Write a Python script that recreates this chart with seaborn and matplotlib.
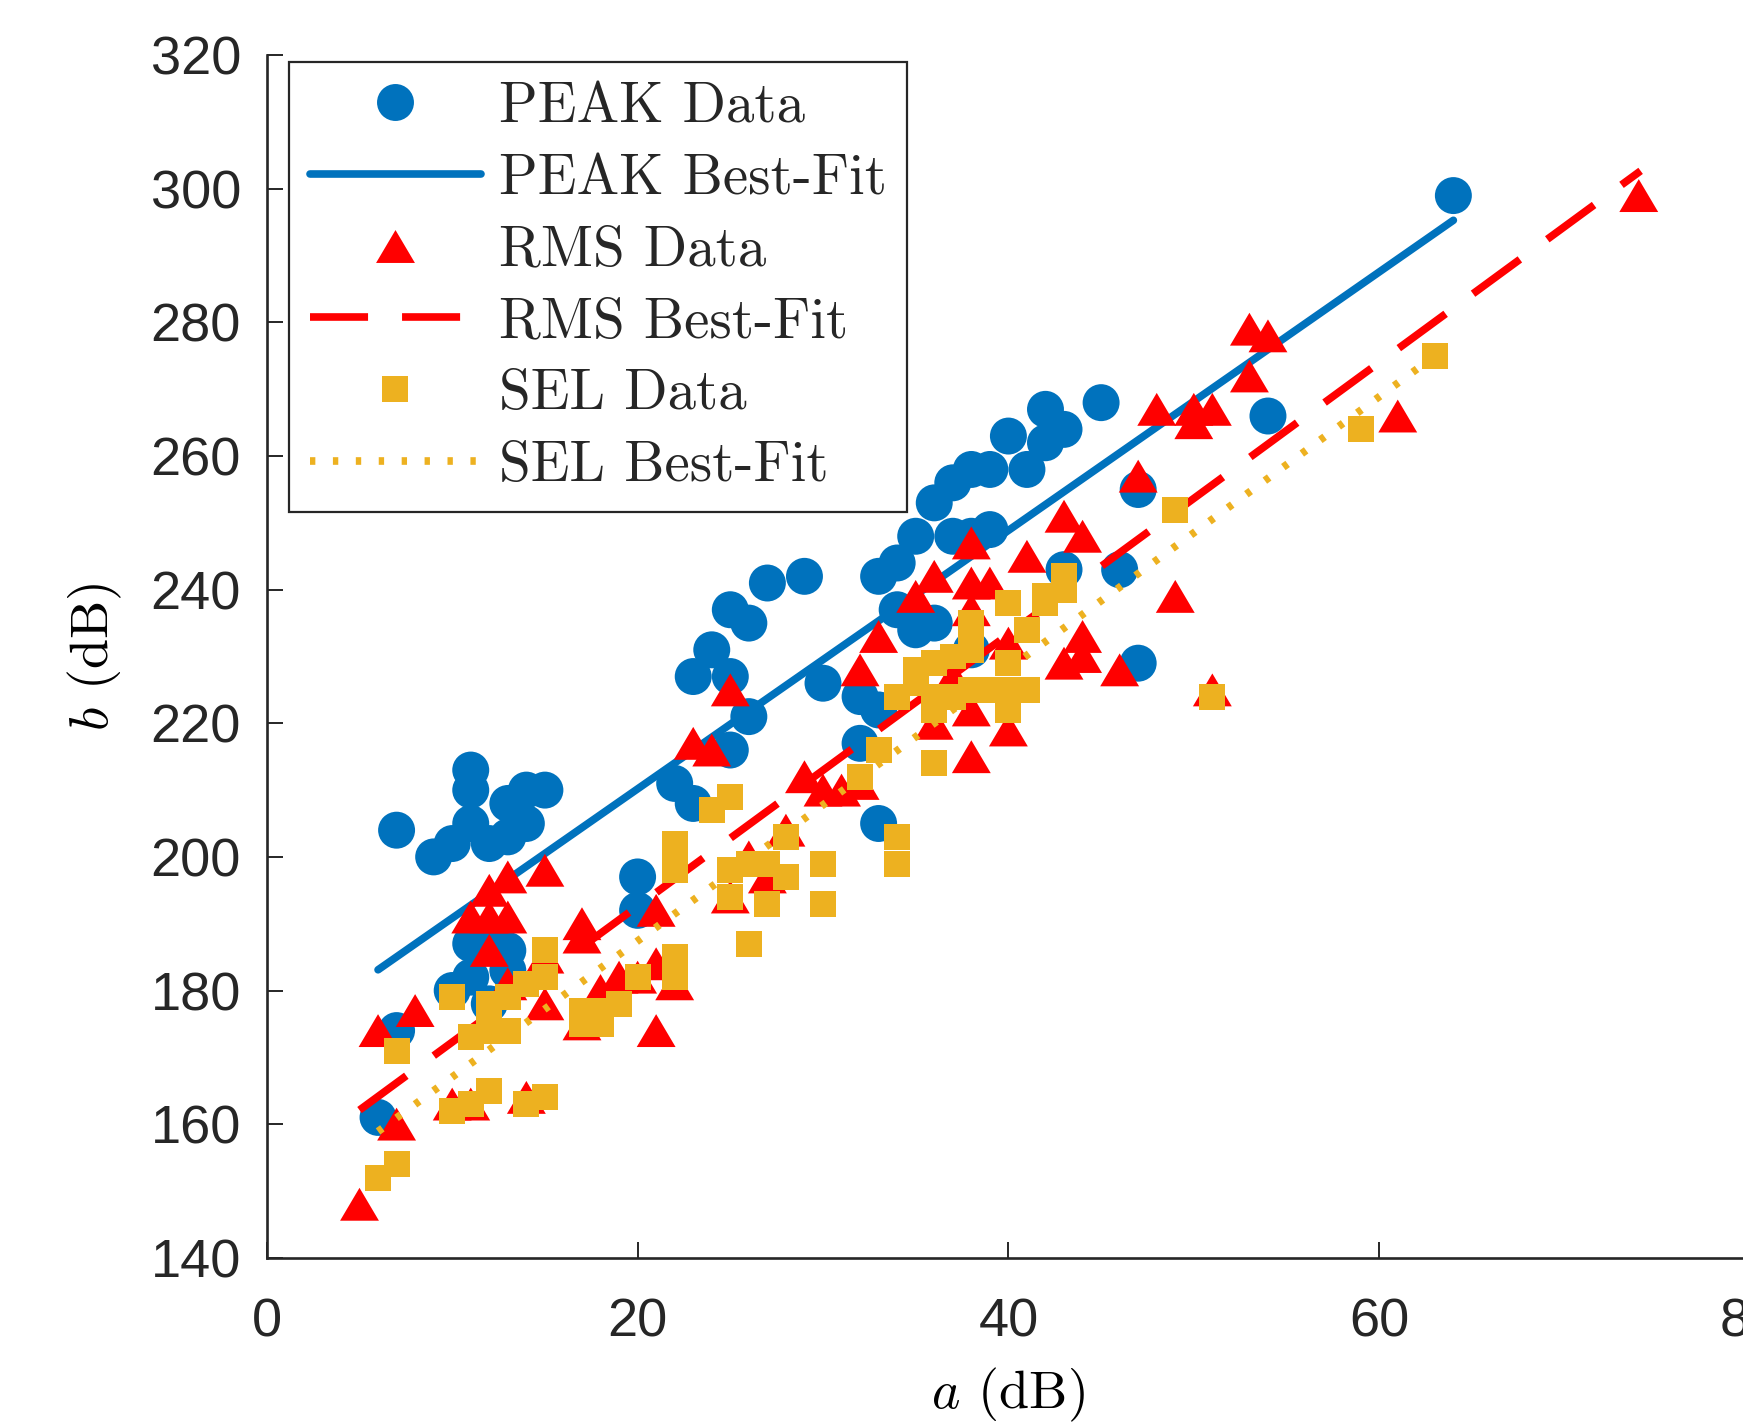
import numpy as np
import pandas as pd
import matplotlib
matplotlib.use("Agg")
import matplotlib.pyplot as plt
import seaborn as sns
from matplotlib.lines import Line2D
from matplotlib.markers import MarkerStyle

# ---------------- data ----------------
peak_x = [6, 7, 7, 9, 10, 10, 11, 11, 11, 11, 11, 12, 12, 12, 13, 13, 13, 13, 14, 14, 15,
          20, 20, 22, 23, 23, 24, 25, 25, 25, 26, 26, 27, 29, 30, 32, 32, 33, 33, 33,
          34, 34, 35, 35, 36, 36, 37, 37, 38, 38, 38, 39, 39, 40, 41, 42, 42, 43, 43,
          45, 46, 47, 47, 54, 64]
peak_y = [161, 174, 204, 200, 202, 180, 213, 210, 205, 187, 182, 202, 188, 178, 203, 208, 186, 183, 210, 205, 210,
          197, 192, 211, 208, 227, 231, 237, 227, 216, 235, 221, 241, 242, 226, 224, 217, 205, 242, 222,
          244, 237, 248, 234, 253, 235, 256, 248, 258, 248, 231, 258, 249, 263, 258, 267, 262, 264, 243,
          268, 243, 255, 229, 266, 299]

rms_x = [5, 6, 7, 8, 10, 11, 11, 12, 12, 12, 13, 13, 13, 14, 15, 15, 15, 17, 17, 17,
         18, 19, 20, 21, 21, 21, 22, 23, 24, 25, 25, 26, 27, 28, 29, 30, 31, 32, 32,
         33, 35, 36, 36, 37, 38, 38, 38, 38, 38, 39, 40, 40, 41, 43, 43, 44, 44, 44,
         46, 47, 48, 49, 50, 50, 51, 51, 53, 53, 54, 61, 74]
rms_y = [148, 174, 160, 177, 163, 163, 191, 195, 191, 186, 197, 191, 181, 164, 198, 185, 178, 190, 188, 175,
         180, 182, 182, 192, 184, 174, 181, 217, 216, 225, 194, 200, 197, 204, 212, 210, 210, 228, 211,
         233, 239, 242, 220, 227, 247, 241, 237, 222, 215, 241, 232, 219, 245, 251, 229, 248, 233, 230,
         228, 257, 267, 239, 267, 265, 267, 225, 279, 272, 278, 266, 299]

sel_x = [6, 7, 7, 10, 10, 11, 11, 12, 12, 12, 12, 13, 13, 14, 14, 15, 15, 15, 17, 17, 18, 18, 19, 20,
         22, 22, 22, 22, 24, 25, 25, 25, 26, 26, 27, 27, 28, 28, 30, 30, 32, 33, 34, 34,
         34, 35, 35, 36, 36, 36, 36, 37, 37, 38, 38, 38, 38, 39, 40, 40, 40, 40, 41, 41,
         42, 42, 43, 43, 49, 51, 59, 63]
sel_y = [152, 154, 171, 179, 162, 163, 173, 165, 174, 176, 178, 174, 179, 163, 181, 164, 182, 186, 175, 177, 175, 177, 178, 182,
         185, 182, 202, 198, 207, 209, 198, 194, 187, 199, 199, 193, 197, 203, 199, 193, 212, 216, 203, 199,
         224, 226, 228, 214, 222, 224, 229, 230, 224, 225, 231, 233, 235, 225, 222, 225, 229, 238, 225, 234,
         238, 239, 240, 242, 252, 224, 264, 275]

# best-fit line end points
peak_fit_x = [6, 64]
peak_fit_y = [183.1, 295.3]
rms_fit_x = [5, 74.1]
rms_fit_y = [162.1, 302.7]
sel_fit_x = [6, 63]
sel_fit_y = [158.9, 275.0]

legend_labels = ["PEAK Data", "PEAK Best-Fit", "RMS Data", "RMS Best-Fit", "SEL Data", "SEL Best-Fit"]
x_ticks = [0, 20, 40, 60, 80]
y_ticks = [140, 160, 180, 200, 220, 240, 260, 280, 300, 320]

# ---------------- style ----------------
sns.set_style("white")
plt.rcParams["font.family"] = ["Liberation Sans", "DejaVu Sans"]
plt.rcParams["mathtext.fontset"] = "cm"

BLUE = "#0072BD"
RED = "#FF0000"
GOLD = "#EDB120"
DARK = "#262626"
LW = 5.5
DASH = (0, (7.6, 4.45))
DOT = (0, (0.7, 2.3))
tri = MarkerStyle([(0, 0.846), (-1, -0.846), (1, -0.846), (0, 0.846)])

fig = plt.figure(figsize=(17.43, 14.23), dpi=100)
ax = fig.add_axes([0.15307, 0.11616, 0.85095, 0.84498])

df_peak = pd.DataFrame({"a": peak_x, "b": peak_y})
df_rms = pd.DataFrame({"a": rms_x, "b": rms_y})
df_sel = pd.DataFrame({"a": sel_x, "b": sel_y})

sns.scatterplot(data=df_peak, x="a", y="b", ax=ax, marker="o", s=708, color=BLUE,
                edgecolor="none", linewidth=0, zorder=1, legend=False)
sns.lineplot(x=peak_fit_x, y=peak_fit_y, ax=ax, color=BLUE, lw=LW, zorder=2,
             legend=False, errorbar=None, sort=False)
ax.lines[-1].set_linestyle("-")

sns.scatterplot(data=df_rms, x="a", y="b", ax=ax, marker=tri, s=784, color=RED,
                edgecolor="none", linewidth=0, zorder=3, legend=False)
sns.lineplot(x=rms_fit_x, y=rms_fit_y, ax=ax, color=RED, lw=LW, zorder=4,
             legend=False, errorbar=None, sort=False)
ax.lines[-1].set_linestyle(DASH)

sns.scatterplot(data=df_sel, x="a", y="b", ax=ax, marker="s", s=350, color=GOLD,
                edgecolor="none", linewidth=0, zorder=5, legend=False)
sns.lineplot(x=sel_fit_x, y=sel_fit_y, ax=ax, color=GOLD, lw=LW, zorder=6,
             legend=False, errorbar=None, sort=False)
ax.lines[-1].set_linestyle(DOT)

# ---------------- axes ----------------
ax.set_xlim(0, 80)
ax.set_ylim(140, 320)
ax.set_xticks(x_ticks)
ax.set_yticks(y_ticks)
ax.set_xticklabels([str(t) for t in x_ticks])
ax.set_yticklabels([str(t) for t in y_ticks])
for s in ["top", "right"]:
    ax.spines[s].set_visible(False)
for s in ["left", "bottom"]:
    ax.spines[s].set_color(DARK)
    ax.spines[s].set_linewidth(1.9)
ax.tick_params(axis="both", direction="in", length=11.5, width=1.4, colors=DARK,
               labelsize=39, left=True, bottom=True)
ax.tick_params(axis="x", pad=29)
ax.tick_params(axis="y", pad=18.6)
ax.grid(False)

ax.set_xlabel(r"$a$ (dB)", fontsize=39, family="cmr10", color="black", va="baseline")
ax.xaxis.set_label_coords(0.5, -0.125)
ax.set_ylabel(r"$b$ (dB)", fontsize=39, family="cmr10", color="black", va="center")
ax.yaxis.set_label_coords(-0.1158, 0.5)

# ---------------- legend ----------------
handles = [
    Line2D([], [], ls="none", marker="o", markersize=26.6, color=BLUE, markeredgewidth=0),
    Line2D([], [], ls="-", lw=LW, color=BLUE),
    Line2D([], [], ls="none", marker=tri, markersize=28, color=RED, markeredgewidth=0),
    Line2D([], [], ls=DASH, lw=LW, color=RED),
    Line2D([], [], ls="none", marker="s", markersize=18.7, color=GOLD, markeredgewidth=0),
    Line2D([], [], ls=DOT, lw=LW, color=GOLD),
]
leg = ax.legend(handles, legend_labels, loc="upper left",
                bbox_to_anchor=(289.3 / 1743, 1 - 61.7 / 1423), bbox_transform=fig.transFigure,
                borderaxespad=0, prop={"family": "cmr10", "size": 41},
                frameon=True, fancybox=False, framealpha=1, edgecolor=DARK,
                handlelength=3.0, handletextpad=0.32, labelspacing=0.36, borderpad=0.36)
leg.get_frame().set_linewidth(1.6)

fig.savefig("out.png", dpi=100)
